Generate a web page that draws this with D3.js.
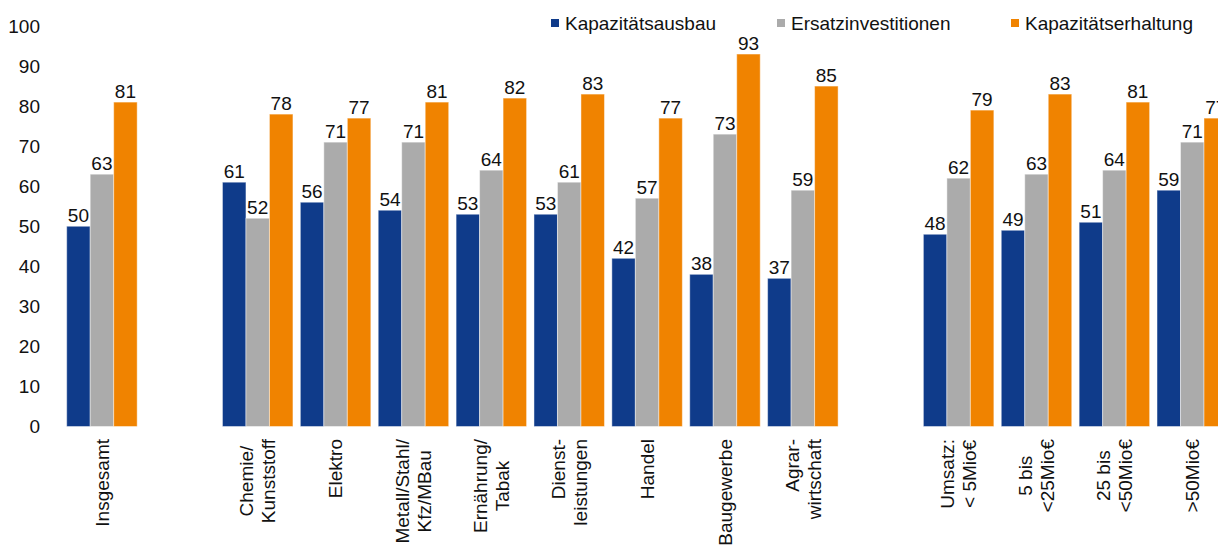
<!DOCTYPE html>
<html>
<head>
<meta charset="utf-8">
<script src="https://cdn.jsdelivr.net/npm/d3@7"></script>
<style>
  html, body { margin: 0; padding: 0; background: #fff; }
  svg { display: block; }
</style>
</head>
<body>
<div id="chart"></div>
<script>
// categories, '' entries are the empty gap slots
const categories = [
  'Insgesamt', '', 'Chemie/\nKunststoff', 'Elektro', 'Metall/Stahl/\nKfz/MBau',
  'Ernährung/\nTabak', 'Dienst-\nleistungen', 'Handel', 'Baugewerbe', 'Agrar-\nwirtschaft',
  ' ', 'Umsatz:\n< 5Mio€', '5 bis\n<25Mio€', '25 bis\n<50Mio€', '>50Mio€'
];
const series = ['Kapazitätsausbau', 'Ersatzinvestitionen', 'Kapazitätserhaltung'];
const ausbau    = [50, null, 61, 56, 54, 53, 53, 42, 38, 37, null, 48, 49, 51, 59];
const ersatz    = [63, null, 52, 71, 71, 64, 61, 57, 73, 59, null, 62, 63, 64, 71];
const erhaltung = [81, null, 78, 77, 81, 82, 83, 77, 93, 85, null, 79, 83, 81, 77];
const yTicks = [0, 10, 20, 30, 40, 50, 60, 70, 80, 90, 100];

const colors = ['#0F3B8A', '#ABABAB', '#F08300'];
const FONT = "'Liberation Sans', Arial, Helvetica, sans-serif";

const W = 1218, H = 545;
const svg = d3.select('#chart').append('svg')
  .attr('width', W).attr('height', H)
  .style('font-family', FONT);

const step = 77.88;
const x = d3.scaleBand().domain(categories)
  .range([63, 63 + step * categories.length])
  .paddingInner(0.095).paddingOuter(0.0475);
const xs = d3.scaleBand().domain(series).range([0, x.bandwidth()]);
const y = d3.scaleLinear().domain([0, 100]).range([426.5, 26]);

const rows = categories.map((c, i) => ({
  cat: c,
  vals: [ausbau[i], ersatz[i], erhaltung[i]]
})).filter(r => r.vals[0] != null);

// y axis labels only
const yAxis = svg.append('g').attr('transform', 'translate(48,0)')
  .call(d3.axisLeft(y).tickValues(yTicks).tickSize(0).tickPadding(8));
yAxis.select('.domain').remove();
yAxis.selectAll('text').attr('font-size', '19px').attr('font-family', FONT).attr('fill', '#111');

// bars
const groups = svg.append('g').selectAll('g.grp')
  .data(rows).join('g')
  .attr('class', 'grp')
  .attr('transform', d => `translate(${x(d.cat)},0)`);

groups.selectAll('rect')
  .data(d => d.vals.map((v, k) => ({ key: series[k], v, k })))
  .join('rect')
  .attr('x', d => xs(d.key))
  .attr('width', xs.bandwidth())
  .attr('y', d => y(d.v))
  .attr('height', d => y(0) - y(d.v))
  .attr('fill', d => colors[d.k])
  .attr('stroke', '#fff').attr('stroke-opacity', 0.45).attr('stroke-width', 1);

groups.selectAll('text.val')
  .data(d => d.vals.map((v, k) => ({ key: series[k], v, k })))
  .join('text')
  .attr('class', 'val')
  .attr('x', d => xs(d.key) + xs.bandwidth() / 2)
  .attr('y', d => y(d.v) - 4)
  .attr('text-anchor', 'middle')
  .attr('font-size', '19px')
  .attr('fill', '#111')
  .text(d => d.v);

// category labels, rotated, multi-line
const lineGap = 22;
const labels = svg.append('g').selectAll('g.lbl')
  .data(rows).join('g')
  .attr('class', 'lbl')
  .attr('transform', d => `translate(${x(d.cat) + x.bandwidth() / 2},439) rotate(-90)`);

labels.each(function(d) {
  const g = d3.select(this);
  const lines = d.cat.split('\n');
  const n = lines.length;
  const texts = lines.map((ln, i) => g.append('text')
    .attr('text-anchor', 'end')
    .attr('font-size', '19px')
    .attr('fill', '#111')
    .attr('y', (i - (n - 1) / 2) * lineGap)
    .attr('dy', '0.35em')
    .text(ln));
  if (n > 1 && !lines[0].endsWith('-')) {
    const widths = texts.map(t => t.node().getComputedTextLength());
    const maxW = d3.max(widths);
    texts.forEach((t, i) => t.attr('x', -(maxW - widths[i]) / 2));
  }
});

// legend
const legendX = [551, 777, 1011];
const legend = svg.append('g').selectAll('g.leg')
  .data(series).join('g')
  .attr('class', 'leg')
  .attr('transform', (d, i) => `translate(${legendX[i]},0)`);
legend.append('rect')
  .attr('x', 0).attr('y', 19).attr('width', 8).attr('height', 8)
  .attr('fill', (d, i) => colors[i]);
legend.append('text')
  .attr('x', 14).attr('y', 30)
  .attr('font-size', '19px').attr('fill', '#111')
  .text(d => d);
</script>
</body>
</html>
